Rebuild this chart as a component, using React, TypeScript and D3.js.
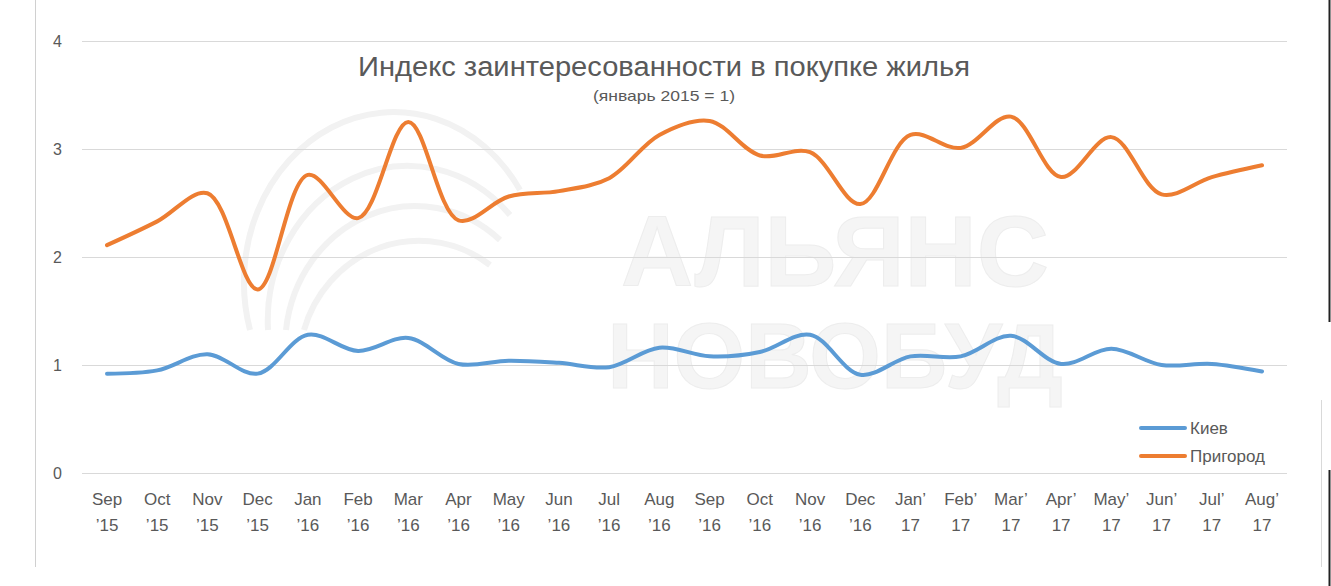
import React, { useEffect, useRef } from "react";
import * as d3 from "d3";

const monthsLine1 = ["Sep","Oct","Nov","Dec","Jan","Feb","Mar","Apr","May","Jun","Jul","Aug","Sep","Oct","Nov","Dec","Jan’","Feb’","Mar’","Apr’","May’","Jun’","Jul’","Aug’"];
const monthsLine2 = ["’15","’15","’15","’15","’16","’16","’16","’16","’16","’16","’16","’16","’16","’16","’16","’16","17","17","17","17","17","17","17","17"];
const kiev = [0.92,0.95,1.10,0.92,1.28,1.13,1.25,1.01,1.04,1.02,0.98,1.16,1.08,1.12,1.28,0.91,1.08,1.08,1.27,1.01,1.15,1.00,1.01,0.94];
const suburb = [2.11,2.33,2.59,1.70,2.76,2.36,3.25,2.34,2.56,2.61,2.73,3.13,3.26,2.94,2.97,2.49,3.13,3.01,3.30,2.74,3.11,2.58,2.74,2.85];
const yTicks = [0,1,2,3,4];
const seriesNames = ["Киев","Пригород"];
const seriesColors = ["#5B9BD5","#ED7D31"];
const title = "Индекс заинтересованности в покупке жилья";
const subtitle = "(январь 2015 = 1)";

const W = 1331, H = 586;

export default function App() {
  const ref = useRef<SVGSVGElement>(null);
  useEffect(() => {
    document.body.style.margin = "0";
    const svg = d3.select(ref.current);
    svg.selectAll("*").remove();
    const font = "'Liberation Sans', Arial, sans-serif";
    const idx = d3.range(monthsLine1.length);
    const x = d3.scalePoint<number>().domain(idx).range([107, 1262]);
    const y = d3.scaleLinear().domain([0, 4]).range([473, 41]);

    svg.append("rect").attr("width", W).attr("height", H).attr("fill", "#fff");
    // borders
    svg.append("line").attr("x1", 35.5).attr("x2", 35.5).attr("y1", 0).attr("y2", 567).attr("stroke", "#d0d0d0");
    svg.append("line").attr("x1", 1321.5).attr("x2", 1321.5).attr("y1", 400).attr("y2", 567).attr("stroke", "#d9d9d9");
    svg.append("line").attr("x1", 1329.5).attr("x2", 1329.5).attr("y1", 0).attr("y2", 322).attr("stroke", "#222").attr("stroke-width", 2);
    svg.append("line").attr("x1", 1329.5).attr("x2", 1329.5).attr("y1", 470).attr("y2", 586).attr("stroke", "#222").attr("stroke-width", 2);

    // watermark
    const wm = svg.append("g").attr("fill", "#f5f5f5").attr("stroke", "#ededed").attr("stroke-width", 1)
      .attr("font-family", font).attr("font-weight", "bold");
    wm.append("text").attr("x", 835).attr("y", 286).attr("text-anchor", "middle").attr("font-size", 100).text("АЛЬЯНС");
    wm.append("text").attr("x", 835).attr("y", 388).attr("text-anchor", "middle").attr("font-size", 92).text("НОВОБУД");
    const arcG = svg.append("g").attr("fill", "none").attr("stroke", "#f2f2f2").attr("stroke-width", 6);
    [0, 1, 2, 3].forEach(i => {
      arcG.append("path").attr("d", `M ${250 + i * 18} ${330} A ${150 - i * 10} ${170 - i * 15} 0 0 1 ${520 - i * 10} ${190 + i * 25}`);
    });

    // gridlines
    svg.append("g").selectAll("line").data(yTicks).join("line")
      .attr("x1", 82).attr("x2", 1287)
      .attr("y1", d => Math.round(y(d)) + 0.5).attr("y2", d => Math.round(y(d)) + 0.5)
      .attr("stroke", "#d9d9d9").attr("stroke-width", 1);
    svg.append("g").selectAll("text").data(yTicks).join("text")
      .attr("x", 62).attr("y", d => y(d) + 6).attr("text-anchor", "end")
      .attr("font-family", font).attr("font-size", 16).attr("fill", "#595959")
      .text(d => String(d));

    // x labels
    const xl = svg.append("g").attr("font-family", font).attr("font-size", 17).attr("fill", "#595959").attr("text-anchor", "middle");
    idx.forEach(i => {
      xl.append("text").attr("x", x(i)!).attr("y", 505).text(monthsLine1[i]);
      xl.append("text").attr("x", x(i)!).attr("y", 531).text(monthsLine2[i]);
    });

    const line = d3.line<number>().x((_, i) => x(i)!).y(d => y(d)).curve(d3.curveCatmullRom.alpha(0.5));
    [kiev, suburb].forEach((s, k) => {
      svg.append("path").attr("d", line(s)!).attr("fill", "none")
        .attr("stroke", seriesColors[k]).attr("stroke-width", 4).attr("stroke-linecap", "round").attr("stroke-linejoin", "round");
    });

    // title
    svg.append("text").attr("x", 664).attr("y", 76).attr("text-anchor", "middle")
      .attr("font-family", font).attr("font-size", 27).attr("fill", "#595959")
      .attr("textLength", 612).attr("lengthAdjust", "spacingAndGlyphs").text(title);
    svg.append("text").attr("x", 664).attr("y", 101).attr("text-anchor", "middle")
      .attr("font-family", font).attr("font-size", 15).attr("fill", "#595959")
      .attr("textLength", 142).attr("lengthAdjust", "spacingAndGlyphs").text(subtitle);

    // legend
    const lg = svg.append("g");
    seriesNames.forEach((n, k) => {
      const ly = 428 + k * 28;
      lg.append("line").attr("x1", 1141).attr("x2", 1185).attr("y1", ly).attr("y2", ly)
        .attr("stroke", seriesColors[k]).attr("stroke-width", 4).attr("stroke-linecap", "round");
      lg.append("text").attr("x", 1190).attr("y", ly + 6).attr("font-family", font).attr("font-size", 17)
        .attr("fill", "#595959").text(n);
    });
  }, []);
  return <svg ref={ref} width={W} height={H} style={{ display: "block" }} />;
}
